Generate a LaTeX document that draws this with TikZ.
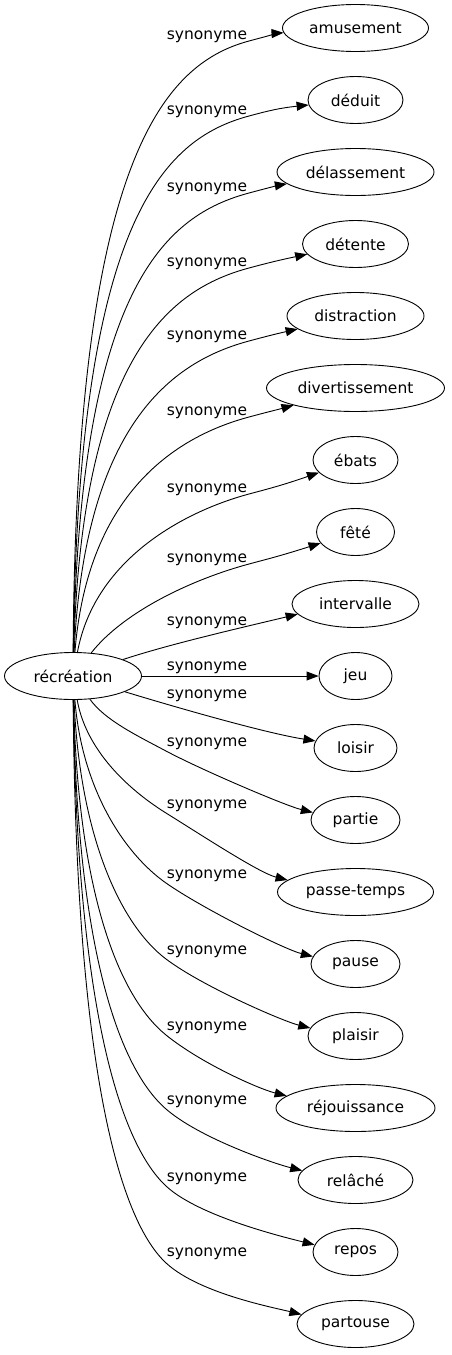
\documentclass[tikz,border=0pt]{standalone}
\usepackage{fontspec}
\setmainfont{DejaVu Sans}
\usetikzlibrary{arrows.meta,shapes.geometric}

\tikzset{
  mot/.style={ellipse, draw, line width=0.9pt, minimum height=47pt, minimum width=#1, inner sep=0pt, font=\fontsize{15.5}{18}\selectfont},
  rel/.style={inner sep=0pt, font=\fontsize{15.5}{18}\selectfont},
  lien/.style={line width=0.9pt, -{Triangle[length=12pt,width=9pt]}}
}

\begin{document}
\begin{tikzpicture}[x=1pt,y=1pt]
            \useasboundingbox (0,0) rectangle (451,-1355);

            % le mot et ses synonymes
            \node[mot=137pt] (recreation) at (73,-676) {récréation};
            \node[mot=146pt] (amusement) at (355.5,-28) {amusement};
            \node[mot=95pt] (deduit) at (355.5,-100) {déduit};
            \node[mot=157pt] (delassement) at (355.5,-172) {délassement};
            \node[mot=106pt] (detente) at (355.5,-244) {détente};
            \node[mot=137pt] (distraction) at (355.5,-316) {distraction};
            \node[mot=178pt] (divertissement) at (355.5,-388) {divertissement};
            \node[mot=85pt] (ebats) at (355.5,-460) {ébats};
            \node[mot=78pt] (fete) at (355.5,-532) {fêté};
            \node[mot=127pt] (intervalle) at (355.5,-604) {intervalle};
            \node[mot=73pt] (jeu) at (355.5,-676) {jeu};
            \node[mot=83pt] (loisir) at (355.5,-748) {loisir};
            \node[mot=89pt] (partie) at (355.5,-820) {partie};
            \node[mot=156pt] (passetemps) at (355.5,-892) {passe-temps};
            \node[mot=89pt] (pause) at (355.5,-964) {pause};
            \node[mot=95pt] (plaisir) at (355.5,-1036) {plaisir};
            \node[mot=159pt] (rejouissance) at (355.5,-1108) {réjouissance};
            \node[mot=115pt] (relache) at (355.5,-1180) {relâché};
            \node[mot=85pt] (repos) at (355.5,-1252) {repos};
            \node[mot=117pt] (partouse) at (355.5,-1324) {partouse};

            % les étiquettes
            \node[rel] (s1) at (207,-37) {synonyme};
            \node[rel] (s2) at (207,-112) {synonyme};
            \node[rel] (s3) at (207,-189) {synonyme};
            \node[rel] (s4) at (207,-264) {synonyme};
            \node[rel] (s5) at (207,-337) {synonyme};
            \node[rel] (s6) at (207,-413) {synonyme};
            \node[rel] (s7) at (207,-490) {synonyme};
            \node[rel] (s8) at (207,-560) {synonyme};
            \node[rel] (s9) at (207,-623) {synonyme};
            \node[rel] (s10) at (207,-668) {synonyme};
            \node[rel] (s11) at (207,-696) {synonyme};
            \node[rel] (s12) at (207,-744) {synonyme};
            \node[rel] (s13) at (207,-806) {synonyme};
            \node[rel] (s14) at (207,-876) {synonyme};
            \node[rel] (s15) at (207,-952) {synonyme};
            \node[rel] (s16) at (207,-1028) {synonyme};
            \node[rel] (s17) at (207,-1102) {synonyme};
            \node[rel] (s18) at (207,-1179) {synonyme};
            \node[rel] (s19) at (207,-1254) {synonyme};

            % vers le haut
            \draw[lien] (recreation) .. controls (76,-163) and +(-87,-23.3) .. (249,-41) .. controls +(20,5.4) and (280,-33) .. (amusement);
            \draw[lien] (recreation) .. controls (78,-223) and +(-87,-23.3) .. (249,-116) .. controls +(20,5.4) and (280,-108) .. (deduit);
            \draw[lien] (recreation) .. controls (80,-285) and +(-82.1,-22) .. (249,-193) .. controls +(20,5.4) and (280,-185) .. (delassement);
            \draw[lien] (recreation) .. controls (82,-353) and +(-77.3,-20.7) .. (249,-268) .. controls +(20,5.4) and (280,-260) .. (detente);
            \draw[lien] (recreation) .. controls (85,-419) and +(-72.4,-19.4) .. (249,-341) .. controls +(20,5.4) and (280,-333) .. (distraction);
            \draw[lien] (recreation) .. controls (88,-488) and +(-67.6,-18.1) .. (249,-417) .. controls +(20,5.4) and (280,-409) .. (divertissement);
            \draw[lien] (recreation) .. controls (95,-558) and +(-62.8,-16.8) .. (249,-494) .. controls +(20,5.4) and (280,-486) .. (ebats);
            \draw[lien] (recreation) .. controls (125,-610) and +(-53.1,-14.2) .. (249,-564) .. controls +(20,5.4) and (280,-556) .. (fete);
            \draw[lien] (recreation) .. controls (170,-644) and (240,-628) .. (intervalle.190);
            \draw[lien] (recreation) -- (jeu);

            % vers le bas
            \draw[lien] (recreation) .. controls (175,-707) and (265,-733) .. (loisir.170);
            \draw[lien] (recreation) .. controls (105,-720) and +(-30.9,16.4) .. (166,-751) .. controls +(35.3,-18.8) and +(-28,7) .. (partie.170);
            \draw[lien] (recreation) .. controls (86,-750) and +(-38.2,23.8) .. (166,-813) .. controls +(38.2,-23.8) and +(-28,7) .. (passetemps.170);
            \draw[lien] (recreation) .. controls (82,-790) and +(-41,28.7) .. (166,-883) .. controls +(36.9,-25.8) and +(-28,7) .. (pause.170);
            \draw[lien] (recreation) .. controls (80,-840) and +(-43.9,33.1) .. (166,-959) .. controls +(35.9,-27.1) and +(-28,7) .. (plaisir.170);
            \draw[lien] (recreation) .. controls (78,-895) and +(-46.6,37.8) .. (166,-1035) .. controls +(35,-28.3) and +(-28,7) .. (rejouissance.170);
            \draw[lien] (recreation) .. controls (77,-955) and +(-45.3,39.4) .. (166,-1109) .. controls +(34,-29.5) and +(-28,7) .. (relache.170);
            \draw[lien] (recreation) .. controls (77,-1016) and +(-43.9,40.9) .. (166,-1186) .. controls +(32.9,-30.7) and +(-28,7) .. (repos.170);
            \draw[lien] (recreation) .. controls (76,-1080) and +(-42.4,42.4) .. (164,-1261) .. controls +(31.8,-31.8) and +(-28,7) .. (partouse.170);
\end{tikzpicture}
\end{document}
